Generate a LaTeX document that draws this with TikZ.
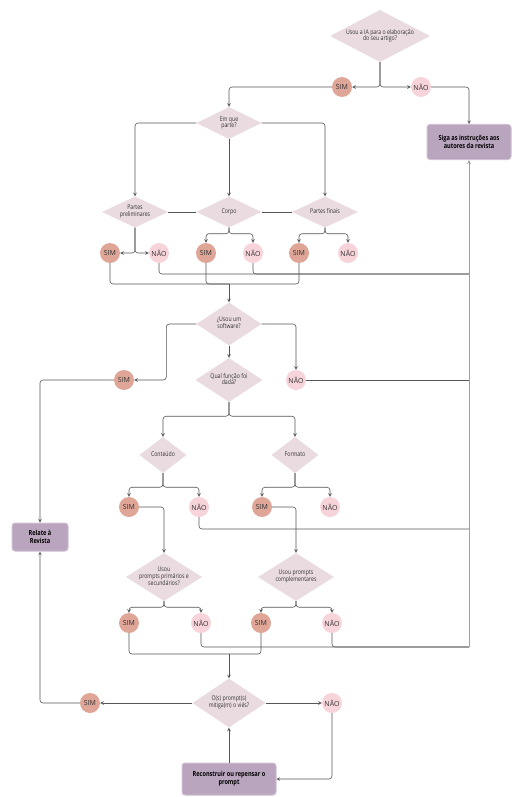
\documentclass[tikz,border=0pt]{standalone}
\usepackage{fontspec}
\setmainfont{Open Sans}[FakeStretch=0.8]
\newfontfamily\largo{Open Sans}
\usetikzlibrary{shapes.geometric}

\definecolor{losango}{HTML}{E9DBDF}
\definecolor{simcor}{HTML}{DFA596}
\definecolor{naocor}{HTML}{F7D3DA}
\definecolor{caixa}{HTML}{B9A5BE}
\definecolor{caixaborda}{HTML}{CFC0D3}
\definecolor{linha}{HTML}{555555}
\definecolor{texto}{HTML}{333333}

% texto sem largura, para o losango ficar com o tamanho dado
\newcommand{\dentro}[1]{\makebox[0pt]{\begin{tabular}{@{}c@{}}#1\end{tabular}}}
\renewcommand{\arraystretch}{0.85}

\tikzset{
    pergunta/.style={diamond, fill=losango, inner sep=0pt, text=texto,
        font=\fontsize{6.5}{7.5}\selectfont},
    sim/.style={circle, fill=simcor, minimum size=20pt, inner sep=0pt, text=texto,
        font=\largo\fontsize{7}{8}\selectfont},
    nao/.style={circle, fill=naocor, minimum size=20pt, inner sep=0pt, text=texto,
        font=\largo\fontsize{7}{8}\selectfont},
    acao/.style={rectangle, rounded corners=3pt, fill=caixa, draw=caixaborda, line width=1pt,
        align=center, text=black, font=\bfseries\fontsize{7}{8}\selectfont},
    fluxo/.style={->, draw=linha, line width=0.6pt, rounded corners=3pt},
    liga/.style={draw=linha, line width=0.6pt, rounded corners=3pt},
}

\begin{document}
\begin{tikzpicture}[x=1pt, y=-1pt, >=stealth]
    \useasboundingbox (0,0) rectangle (528,797);

    % Perguntas
    \node[pergunta, minimum width=100, minimum height=52] (ia) at (380,36) {\dentro{Usou a IA para o elaboração\\do seu artigo?}};
    \node[pergunta, minimum width=65, minimum height=32] (parte) at (229,123) {\dentro{Em que\\parte?}};
    \node[pergunta, minimum width=66, minimum height=31] (pre) at (135,212) {\dentro{Partes\\preliminares}};
    \node[pergunta, minimum width=65, minimum height=31] (corpo) at (229,212) {\dentro{Corpo}};
    \node[pergunta, minimum width=66, minimum height=31] (fin) at (325,212) {\dentro{Partes finais}};
    \node[pergunta, minimum width=65, minimum height=43] (soft) at (229,324) {\dentro{¿Usou um\\software?}};
    \node[pergunta, minimum width=67, minimum height=44] (funcao) at (229,380) {\dentro{Qual função foi\\dada?}};
    \node[pergunta, minimum width=47, minimum height=36] (cont) at (163,455) {\dentro{Conteúdo}};
    \node[pergunta, minimum width=47, minimum height=36] (form) at (295,455) {\dentro{Formato}};
    \node[pergunta, minimum width=76, minimum height=48] (prim) at (164,577) {\dentro{Usou\\prompts primários e\\secundários?}};
    \node[pergunta, minimum width=76, minimum height=48] (comp) at (296,577) {\dentro{Usou prompts\\complementares}};
    \node[pergunta, minimum width=73, minimum height=49] (mitiga) at (229,703) {\dentro{O(s) prompt(s)\\mitiga(m) o viés?}};

    % Respostas
    \node[sim] (sim1) at (342,87) {SIM};
    \node[nao] (nao1) at (421,87) {NÃO};
    \node[sim] (sim2) at (110,253) {SIM};
    \node[nao] (nao2) at (159,253) {NÃO};
    \node[sim] (sim3) at (206,253) {SIM};
    \node[nao] (nao3) at (253,253) {NÃO};
    \node[sim] (sim4) at (299,253) {SIM};
    \node[nao] (nao4) at (348,253) {NÃO};
    \node[sim] (sim5) at (124,380) {SIM};
    \node[nao] (nao5) at (296,380) {NÃO};
    \node[sim] (sim6) at (129,507) {SIM};
    \node[nao] (nao6) at (199,507) {NÃO};
    \node[sim] (sim7) at (262,507) {SIM};
    \node[nao] (nao7) at (330,507) {NÃO};
    \node[sim] (sim8) at (129,623) {SIM};
    \node[nao] (nao8) at (201,623) {NÃO};
    \node[sim] (sim9) at (261,623) {SIM};
    \node[nao] (nao9) at (332,623) {NÃO};
    \node[sim] (sim10) at (90,703) {SIM};
    \node[nao] (nao10) at (332,703) {NÃO};

    % Acoes
    \node[acao, minimum width=84, minimum height=35] (siga) at (469,142) {Siga as instruções aos\\autores da revista};
    \node[acao, minimum width=56, minimum height=28] (relate) at (40,537) {Relate à\\Revista};
    \node[acao, minimum width=94, minimum height=32] (recon) at (229,779) {Reconstruir ou repensar o\\prompt};

    % Pontos de juncao
    \coordinate (dir1) at (469,274);
    \coordinate (dir2) at (469,380);
    \coordinate (dir3) at (469,529);
    \coordinate (dir4) at (469,647);
    \coordinate (jun1) at (229,284);
    \coordinate (jun2) at (229,654);

    % Topo
    \draw[fluxo] (ia.south) |- (sim1);
    \draw[fluxo] (ia.south) |- (nao1);
    \draw[fluxo] (sim1) -| (parte);
    \draw[fluxo] (nao1) -| (siga);

    % Partes
    \draw[fluxo] (parte.west) -| (pre);
    \draw[fluxo] (parte.east) -| (fin);
    \draw[fluxo] (parte) -- (corpo);
    \draw[liga] (pre.east) -- (corpo.west);
    \draw[liga] (corpo.east) -- (fin.west);
    \draw[fluxo] (pre.south) |- (sim2);
    \draw[fluxo] (pre.south) |- (nao2);
    \draw[fluxo] (corpo.south) -- ++(0,6) -| (sim3);
    \draw[fluxo] (corpo.south) -- ++(0,6) -| (nao3);
    \draw[fluxo] (fin.south) -- ++(0,6) -| (sim4);
    \draw[fluxo] (fin.south) -- ++(0,6) -| (nao4);
    \draw[liga] (nao2) |- (dir1);
    \draw[liga] (nao3) |- (dir1);
    \draw[liga] (sim2) |- (jun1);
    \draw[liga] (sim3) |- (jun1);
    \draw[liga] (sim4) |- (jun1);
    \draw[fluxo] (jun1) -- (soft);

    % Software
    \draw[fluxo] (soft.west) -- ++(-30,0) |- (sim5);
    \draw[fluxo] (soft.east) -| (nao5);
    \draw[fluxo] (soft) -- (funcao);
    \draw[fluxo] (sim5) -| (relate);
    \draw[liga] (nao5) -- (dir2);

    % Funcao
    \draw[fluxo] (funcao.south) -- ++(0,14) -| (cont);
    \draw[fluxo] (funcao.south) -- ++(0,14) -| (form);
    \draw[fluxo] (cont.south) -- ++(0,14) -| (sim6);
    \draw[fluxo] (cont.south) -- ++(0,14) -| (nao6);
    \draw[fluxo] (form.south) -- ++(0,14) -| (sim7);
    \draw[fluxo] (form.south) -- ++(0,14) -| (nao7);
    \draw[fluxo] (sim6) -| (prim);
    \draw[fluxo] (sim7) -| (comp);
    \draw[liga] (nao6) |- (dir3);

    % Prompts
    \draw[fluxo] (prim.south) -- ++(0,6) -| (sim8);
    \draw[fluxo] (prim.south) -- ++(0,6) -| (nao8);
    \draw[fluxo] (comp.south) -- ++(0,6) -| (sim9);
    \draw[fluxo] (comp.south) -- ++(0,6) -| (nao9);
    \draw[liga] (nao8) |- (dir4);
    \draw[liga] (nao9) |- (dir4);
    \draw[fluxo, draw=gray!75, line width=0.9pt] (dir4) -- (siga);
    \draw[liga] (sim8) |- (jun2);
    \draw[liga] (sim9) |- (jun2);
    \draw[fluxo] (jun2) -- (mitiga);

    % Vies
    \draw[fluxo] (mitiga) -- (sim10);
    \draw[fluxo] (mitiga) -- (nao10);
    \draw[fluxo] (sim10) -| (relate);
    \draw[fluxo] (nao10) |- (recon);
    \draw[fluxo] (recon) -- (mitiga);
\end{tikzpicture}
\end{document}
